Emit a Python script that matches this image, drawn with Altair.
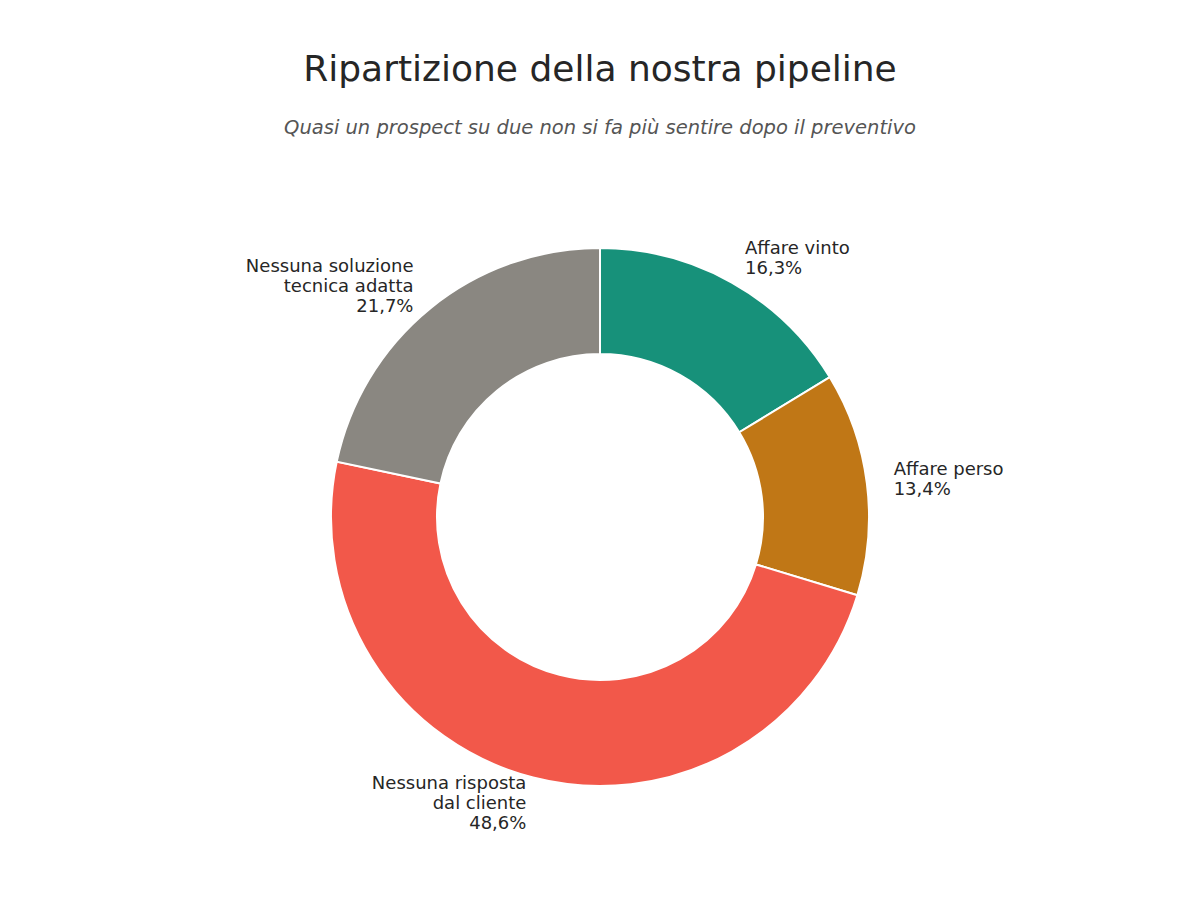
import altair as alt
import pandas as pd

categories = ["Affare vinto", "Affare perso", "Nessuna risposta\ndal cliente", "Nessuna soluzione\ntecnica adatta"]
values = [16.3, 13.4, 48.6, 21.7]
colors = ["#17917a", "#c07716", "#f2584a", "#8a8781"]

df = pd.DataFrame({"cat": categories, "value": values, "idx": list(range(len(categories)))})

base = alt.Chart(df).transform_window(
    cum="sum(value)", sort=[alt.SortField("idx")]
).transform_joinaggregate(
    total="sum(value)"
).transform_calculate(
    mid="(datum.cum - datum.value/2)/datum.total",
    nlines="length(split(datum.cat, '\\n')) + 1",
    label="datum.cat + '\\n' + replace(format(datum.value, '.1f'), '.', ',') + '%'"
)

theta = alt.Theta("value:Q", stack=True)
order = alt.Order("idx:O")

arcs = base.mark_arc(outerRadius=269, innerRadius=163, stroke="white", strokeWidth=2).encode(
    theta=theta,
    order=order,
    color=alt.Color("cat:N", scale=alt.Scale(domain=categories, range=colors), legend=None),
)

LH = 20
layers = [arcs]
for side_test, align in [("datum.mid < 0.5", "left"), ("datum.mid >= 0.5", "right")]:
    for n in [2, 3]:
        layers.append(
            base.mark_text(radius=296, align=align, baseline="middle", fontSize=18,
                           lineBreak="\n", lineHeight=LH, dy=-(n - 1) * LH / 2,
                           color="#262626").encode(
                theta=theta,
                order=order,
                text=alt.condition(f"{side_test} && datum.nlines == {n}",
                                   alt.Text("label:N"), alt.value("")),
            )
        )

chart = alt.layer(*layers).properties(
    width=1184,
    height=750,
    padding={"left": 0, "right": 0, "top": 134, "bottom": 0},
    autosize=alt.AutoSizeParams(type="none"),
    title=alt.TitleParams(
        text="Ripartizione della nostra pipeline",
        subtitle="Quasi un prospect su due non si fa più sentire dopo il preventivo",
        fontSize=36, fontWeight="normal", color="#262626",
        subtitleFontSize=19.5, subtitleFontStyle="italic", subtitleColor="#555555",
        subtitlePadding=30, anchor="middle", offset=4,
        font="DejaVu Sans", subtitleFont="DejaVu Sans",
    ),
).configure(font="DejaVu Sans", background="white").configure_view(stroke=None)

chart.save("out.html", embed_options={"renderer": "svg", "actions": False})
